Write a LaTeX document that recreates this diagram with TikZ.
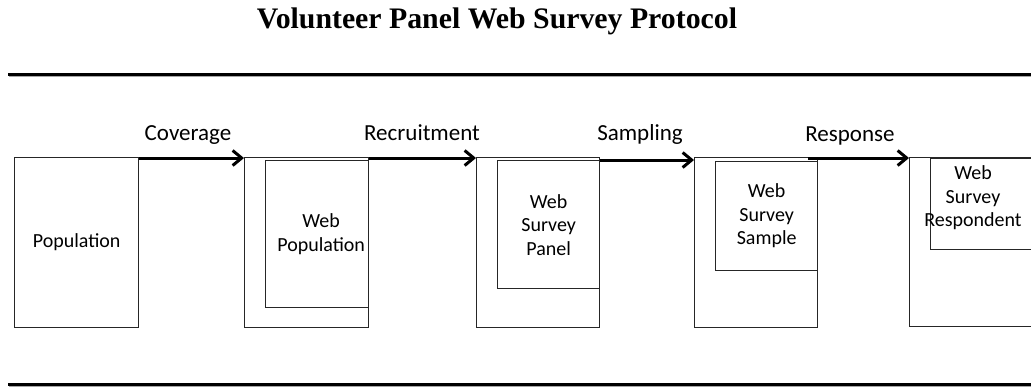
\documentclass[tikz,border=0pt]{standalone}
\usepackage{fontspec}
\setmainfont{Carlito}
\newfontfamily\headfont{Liberation Serif}
\usetikzlibrary{arrows.meta}
\tikzset{stagebox/.style={draw=black!85, line width=1.3pt, rectangle, inner sep=0pt, anchor=north west, align=center},
  flow/.style={line width=3pt, -{Straight Barb[length=9pt,width=15pt]}},
  steplabel/.style={anchor=base, font=\fontsize{23}{27}\selectfont},
  rule/.style={line width=3pt}}

\begin{document}
\begin{tikzpicture}[x=1pt, y=-1pt, font=\fontsize{20}{23.5}\selectfont]
	\clip (0,0) rectangle (1031,386);
	
	\node[anchor=base, font=\headfont\bfseries\fontsize{29.8}{34}\selectfont] (title) at (497,28.5) {Volunteer Panel Web Survey Protocol};
	
	% rules above and below
	\draw[rule, black!35] (9,75.8) -- (1040,75.8);
	\draw[rule] (8,74) -- (1040,74);
	\draw[rule, black!35] (9,385.6) -- (1040,385.6);
	\draw[rule] (8,384) -- (1040,384);
	
	% outer boxes
	\node[stagebox, minimum width=124pt, minimum height=170pt] (pop) at (14,157) {Population};
	\node[stagebox, minimum width=124pt, minimum height=170pt] (webpopout) at (244,157) {};
	\node[stagebox, minimum width=123pt, minimum height=170pt] (panelout) at (476,157) {};
	\node[stagebox, minimum width=123pt, minimum height=170pt] (sampleout) at (694,157) {};
	\node[stagebox, minimum width=150pt, minimum height=169pt] (respout) at (909,157) {};
	
	% inner boxes
	\node[stagebox, minimum width=103pt, minimum height=147pt] (webpop) at (265,160) {\hspace{8pt}Web\\\hspace{8pt}Population};
	\node[stagebox, minimum width=102pt, minimum height=128pt] (panel) at (497,160) {Web\\Survey\\Panel};
	\node[stagebox, minimum width=102pt, minimum height=109pt] (sample) at (715,161) {Web\\Survey\\Sample};
	\node[stagebox, minimum width=130pt, minimum height=91pt] (resp) at (930,158) {};
	\node[align=center, inner sep=0pt] (resptext) at (973,198) {Web\\Survey\\Respondent};
	
	\draw[flow] ([yshift=-1pt]pop.north east) -- ([yshift=-1pt]webpopout.north west);
	\draw[flow] ([yshift=-1pt]webpopout.north east) -- ([yshift=-1pt]panelout.north west);
	\draw[flow] (panel.north east) -- (panel.north east -| sampleout.west);
	\draw[flow] ([xshift=-10pt,yshift=-1pt]sampleout.north east) -- ([yshift=-1pt]respout.north west);
	
	\node[steplabel] (cov) at (188,140) {Coverage};
	\node[steplabel] (recr) at (422,140) {Recruitment};
	\node[steplabel] (samp) at (640,140) {Sampling};
	\node[steplabel] (respl) at (850,141) {Response};
\end{tikzpicture}
\end{document}
